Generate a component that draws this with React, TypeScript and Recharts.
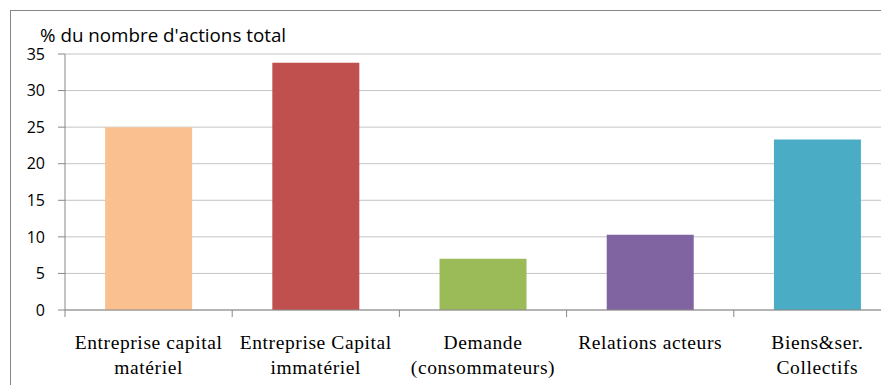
import React from "react";
import { BarChart, Bar, XAxis, YAxis, CartesianGrid, Cell } from "recharts";

const categories = [
  "Entreprise capital|matériel",
  "Entreprise Capital|immatériel",
  "Demande|(consommateurs)",
  "Relations acteurs",
  "Biens&ser.|Collectifs",
];
const values = [25.0, 33.8, 7.0, 10.3, 23.3];
const colors = ["#FAC090", "#C0504D", "#9BBB59", "#8064A2", "#4BACC6"];
const yTicks = [0, 5, 10, 15, 20, 25, 30, 35];
const yTitle = "% du nombre d'actions total";

const data = categories.map((c, i) => ({ name: c, value: values[i] }));

const CHART_W = 900;
const CHART_H = 377;
const MARGIN = { top: 46, right: 7, left: 0, bottom: 15 };
const Y_W = 57;
const BAND = (CHART_W - MARGIN.left - MARGIN.right - Y_W) / categories.length;

const XTick = (props: any) => {
  const { x, y, payload, index } = props;
  const lines = String(payload.value).split("|");
  return (
    <g>
      <line x1={x - BAND / 2} x2={x - BAND / 2} y1={y - 8} y2={y - 1} stroke="#888" />
      {index === categories.length - 1 && (
        <line x1={x + BAND / 2} x2={x + BAND / 2} y1={y - 8} y2={y - 1} stroke="#888" />
      )}
      <text
        x={x}
        y={y}
        textAnchor="middle"
        fontFamily="'Liberation Serif', 'DejaVu Serif', serif"
        fontSize={19.5}
        letterSpacing={0.6}
        fill="#000"
      >
        {lines.map((l, i) => (
          <tspan key={i} x={x} y={y + 31 + i * 25}>
            {l}
          </tspan>
        ))}
      </text>
    </g>
  );
};

export default function App() {
  return (
    <div style={{ position: "relative", width: 881, height: 377, overflow: "hidden", background: "#fff" }}>
      <div
        style={{
          position: "absolute",
          left: 2,
          top: 2,
          width: 1000,
          height: 500,
          border: "1px solid #868686",
          boxSizing: "border-box",
        }}
      />
      <div style={{ position: "absolute", left: 0, top: 0 }}>
        <BarChart width={CHART_W} height={CHART_H} data={data} margin={MARGIN} barCategoryGap="24%">
          <CartesianGrid horizontal vertical={false} stroke="#c4c4c4" />
          <XAxis
            dataKey="name"
            interval={0}
            height={60}
            axisLine={{ stroke: "#888" }}
            tickLine={false}
            tick={<XTick />}
          />
          <YAxis
            width={Y_W}
            domain={[0, 35]}
            ticks={yTicks}
            interval={0}
            axisLine={{ stroke: "#888" }}
            tickLine={{ stroke: "#888" }}
            tickSize={7}
            tickMargin={13}
            tick={{ fill: "#000", fontSize: 16, fontFamily: "'Open Sans', sans-serif" }}
            label={(p: any) => (
              <text x={32} y={34} fontSize={18.8} fontFamily="'Open Sans', sans-serif" fill="#000">
                {yTitle}
              </text>
            )}
          />
          <Bar dataKey="value" isAnimationActive={false}>
            {data.map((d, i) => (
              <Cell key={i} fill={colors[i]} />
            ))}
          </Bar>
        </BarChart>
      </div>
    </div>
  );
}
